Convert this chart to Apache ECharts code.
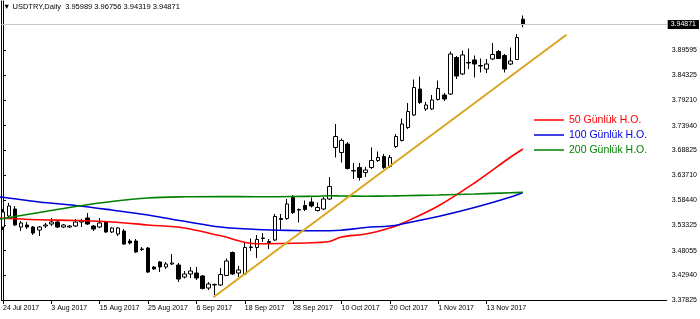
<!DOCTYPE html>
<html>
<head>
<meta charset="utf-8">
<script src="https://cdn.jsdelivr.net/npm/echarts@6/dist/echarts.min.js"></script>
<style>html,body{margin:0;padding:0;background:#fff}#c{width:700px;height:319px}</style>
</head>
<body>
<div id="c"></div>
<script>
const symbolName = 'USDTRY,Daily';
const dates = ['24 Jul 2017','25 Jul 2017','26 Jul 2017','27 Jul 2017','28 Jul 2017','31 Jul 2017',
'1 Aug 2017','2 Aug 2017','3 Aug 2017','4 Aug 2017','7 Aug 2017','8 Aug 2017','9 Aug 2017','10 Aug 2017','11 Aug 2017',
'14 Aug 2017','15 Aug 2017','16 Aug 2017','17 Aug 2017','18 Aug 2017','21 Aug 2017','22 Aug 2017','23 Aug 2017','24 Aug 2017',
'25 Aug 2017','28 Aug 2017','29 Aug 2017','30 Aug 2017','31 Aug 2017','1 Sep 2017','4 Sep 2017','5 Sep 2017','6 Sep 2017',
'7 Sep 2017','8 Sep 2017','11 Sep 2017','12 Sep 2017','13 Sep 2017','14 Sep 2017','15 Sep 2017','18 Sep 2017','19 Sep 2017',
'20 Sep 2017','21 Sep 2017','22 Sep 2017','25 Sep 2017','26 Sep 2017','27 Sep 2017','28 Sep 2017','29 Sep 2017','2 Oct 2017',
'3 Oct 2017','4 Oct 2017','5 Oct 2017','6 Oct 2017','9 Oct 2017','10 Oct 2017','11 Oct 2017','12 Oct 2017','13 Oct 2017',
'16 Oct 2017','17 Oct 2017','18 Oct 2017','19 Oct 2017','20 Oct 2017','23 Oct 2017','24 Oct 2017','25 Oct 2017','26 Oct 2017',
'27 Oct 2017','30 Oct 2017','31 Oct 2017','1 Nov 2017','2 Nov 2017','3 Nov 2017','6 Nov 2017','7 Nov 2017','8 Nov 2017',
'9 Nov 2017','10 Nov 2017','13 Nov 2017','14 Nov 2017','15 Nov 2017','16 Nov 2017','17 Nov 2017','20 Nov 2017','21 Nov 2017'];

const opens = [3.5294,3.5522,3.5667,3.5294,3.5336,3.5294,3.5232,3.5315,3.5356,3.5398,3.5294,3.5294,3.5315,3.5398,3.5481,
3.5315,3.5294,3.5398,3.5191,3.5149,3.5211,3.5004,3.5004,3.4839,3.4859,3.4466,3.4570,3.4466,3.4528,3.4507,3.4259,3.4321,
3.4342,3.4280,3.4031,3.4093,3.4093,3.4290,3.4766,3.4342,3.4321,3.4870,3.4870,3.5056,3.4994,3.5025,3.5470,3.5470,3.5905,
3.5657,3.5740,3.5812,3.5636,3.5667,3.5874,3.6941,3.6837,3.7013,3.6464,3.6527,3.6423,3.6527,3.6672,3.6754,3.6547,3.6961,
3.7086,3.7355,3.7614,3.8152,3.7738,3.7738,3.7935,3.8028,3.8049,3.8805,3.8463,3.8701,3.8753,3.8639,3.8566,3.8774,3.8929,
3.8846,3.8670,3.8763,3.95989];
const closes = [3.5605,3.5729,3.5336,3.5377,3.5294,3.5170,3.5294,3.5336,3.5398,3.5294,3.5336,3.5315,3.5398,3.5419,3.5356,
3.5253,3.5377,3.5191,3.5274,3.5274,3.4942,3.4963,3.4777,3.4828,3.4362,3.4425,3.4466,3.4528,3.4549,3.4217,3.4321,3.4383,
3.4238,3.4021,3.4114,3.4104,3.4311,3.4590,3.4321,3.4404,3.4870,3.4880,3.5035,3.5067,3.4973,3.5512,3.5450,3.5771,3.5595,
3.5647,3.5657,3.5729,3.5698,3.5874,3.6133,3.7168,3.7086,3.6506,3.6454,3.6320,3.6475,3.6672,3.6734,3.6527,3.6734,3.7168,
3.7427,3.7686,3.8183,3.7873,3.7821,3.7925,3.8163,3.7945,3.8877,3.8421,3.8857,3.8691,3.8670,3.8629,3.8670,3.8867,3.8784,
3.8566,3.8732,3.9219,3.94871];
const lows = [3.5232,3.5481,3.5315,3.5211,3.5253,3.5129,3.5108,3.5274,3.5315,3.5274,3.5274,3.5274,3.5294,3.5294,3.5336,
3.5211,3.5274,3.5170,3.5170,3.5108,3.4922,3.4932,3.4756,3.4797,3.4342,3.4404,3.4362,3.4425,3.4507,3.4155,3.4228,3.4238,
3.4197,3.4000,3.3990,3.3886,3.4072,3.4280,3.4300,3.4259,3.4300,3.4797,3.4652,3.4984,3.4839,3.5004,3.5243,3.5440,3.5564,
3.5388,3.5626,3.5698,3.5615,3.5647,3.5853,3.6734,3.6630,3.6485,3.6288,3.6257,3.6330,3.6496,3.6641,3.6496,3.6516,3.6930,
3.7065,3.7324,3.7593,3.7842,3.7697,3.7718,3.7914,3.7904,3.8028,3.8359,3.8442,3.8566,3.8391,3.8494,3.8484,3.8753,3.8774,
3.8494,3.8649,3.8753,3.94319];
const highs = [3.5667,3.5791,3.5729,3.5419,3.5398,3.5315,3.5315,3.5377,3.5481,3.5439,3.5356,3.5336,3.5460,3.5460,3.5584,
3.5336,3.5481,3.5419,3.5294,3.5294,3.5253,3.5046,3.5046,3.4880,3.4880,3.4487,3.4590,3.4570,3.4735,3.4549,3.4383,3.4466,
3.4466,3.4300,3.4155,3.4124,3.4445,3.4642,3.4787,3.4487,3.4973,3.5056,3.5129,3.5170,3.5046,3.5564,3.5564,3.5874,3.5957,
3.5678,3.5843,3.5905,3.5802,3.5915,3.6330,3.7427,3.7127,3.7055,3.6620,3.6620,3.6537,3.6941,3.6858,3.6806,3.6786,3.7220,
3.7541,3.7862,3.8349,3.8411,3.7883,3.8028,3.8328,3.8070,3.8929,3.8836,3.8950,3.8991,3.8846,3.8784,3.8774,3.9105,3.8960,
3.8877,3.9012,3.9291,3.96756];

// moving averages, read at these bar indices
const maIdx = [-1,0,6,12,18,24,30,36,42,48,52,54,56,60,64,66,72,78,84,86];
const ma50  = [3.5481,3.5475,3.5443,3.5429,3.5398,3.5336,3.5274,3.5112,3.4948,3.4957,3.4973,3.4994,3.5087,3.5149,3.5274,3.5367,3.5729,3.6206,3.6744,3.6910];
const ma100 = [3.5916,3.5909,3.5812,3.5740,3.5646,3.5543,3.5412,3.5294,3.5243,3.5222,3.5218,3.5218,3.5228,3.5284,3.5315,3.5356,3.5512,3.5698,3.5916,3.6009];
const ma200 = [3.5450,3.5470,3.5595,3.5719,3.5822,3.5895,3.5920,3.5926,3.5920,3.5926,3.5932,3.5940,3.5936,3.5932,3.5936,3.5943,3.5957,3.5978,3.6003,3.6013];
const maNames = ['50 Günlük H.O.','100 Günlük H.O.','200 Günlük H.O.'];

const trendIdx = [34.81, 93.22];
const trendVal = [3.3838, 3.9277];

const yTicks = [3.37825,3.42940,3.48055,3.53325,3.58440,3.63710,3.68825,3.73940,3.79210,3.84325,3.89595];
const xTickIdx = [0,8,16,24,32,40,48,56,64,72,80];

const FF = 'Liberation Sans, Arial, sans-serif';
const last = opens.length - 1;
const candleData = opens.map((o, i) => [i, o, closes[i], lows[i], highs[i]]);
const colors = ['#ff0000', '#0000dd', '#008000'];
const maSeries = [ma50, ma100, ma200].map((arr, k) => ({
  type: 'line', name: maNames[k], data: maIdx.map((x, i) => [x, arr[i]]),
  smooth: 0.35, showSymbol: false, symbol: 'none', clip: true,
  lineStyle: { color: colors[k], width: 1.6 }, itemStyle: { color: colors[k] }, z: 3
}));

const chart = echarts.init(document.getElementById('c'), null, { renderer: 'canvas' });
chart.setOption({
  animation: false,
  backgroundColor: '#fff',
  title: {
    text: '\u25BC ' + symbolName + '  ' + [opens[last], highs[last], lows[last], closes[last]].map(v => v.toFixed(5)).join(' '),
    left: 3, top: 3, padding: 0,
    textStyle: { fontSize: 7.5, fontWeight: 'normal', color: '#000', fontFamily: FF }
  },
  legend: {
    orient: 'vertical', left: 534, top: 114, padding: 0, itemGap: 3,
    itemWidth: 30, itemHeight: 1.5, icon: 'rect',
    textStyle: { fontSize: 10.5, lineHeight: 12, fontFamily: FF },
    data: maNames.map((n, k) => ({ name: n, textStyle: { color: colors[k] } }))
  },
  grid: { left: 1, right: 33, top: 1, bottom: 19, containLabel: false },
  xAxis: {
    type: 'value', min: -0.281, max: 109.8,
    axisLine: { show: true, lineStyle: { color: '#000', width: 1 } },
    axisTick: { show: true, customValues: xTickIdx, length: 4, lineStyle: { color: '#000' } },
    axisLabel: { customValues: xTickIdx, formatter: v => dates[v], align: 'left', margin: 5,
      fontSize: 7, color: '#000', fontFamily: FF },
    splitLine: { show: false }
  },
  yAxis: [{
    type: 'value', position: 'right', min: 3.37825, max: 3.99748,
    axisLine: { show: true, lineStyle: { color: '#000', width: 1 } },
    axisTick: { show: true, customValues: yTicks, length: 3, lineStyle: { color: '#000' } },
    axisLabel: { customValues: yTicks, formatter: v => v.toFixed(5), margin: 5, fontSize: 7, color: '#000', fontFamily: FF },
    splitLine: { show: false }
  }, {
    type: 'value', position: 'left', min: 3.37825, max: 3.99748,
    axisLine: { show: true, lineStyle: { color: '#000', width: 1 } },
    axisTick: { show: false }, axisLabel: { show: false }, splitLine: { show: false }
  }],
  series: [{
    type: 'candlestick', name: 'USDTRY', data: candleData, barWidth: 4, z: 2,
    itemStyle: { color: '#fff', color0: '#000', borderColor: '#000', borderColor0: '#000', borderWidth: 1 },
    markLine: {
      silent: true, symbol: ['none', 'none'], animation: false, precision: 5,
      lineStyle: { color: '#c8c8c8', width: 1, type: 'solid' },
      label: { position: 'end', distance: 1, formatter: () => closes[last].toFixed(5),
        backgroundColor: '#000', color: '#fff', padding: [1, 3], fontSize: 7, fontFamily: FF },
      data: [{ yAxis: closes[last] }]
    }
  }].concat(maSeries).concat([{
    type: 'line', name: 'trend', data: trendIdx.map((x, i) => [x, trendVal[i]]),
    showSymbol: false, symbol: 'none', lineStyle: { color: '#DAA520', width: 2 }, z: 4
  }])
});
</script>
</body>
</html>
